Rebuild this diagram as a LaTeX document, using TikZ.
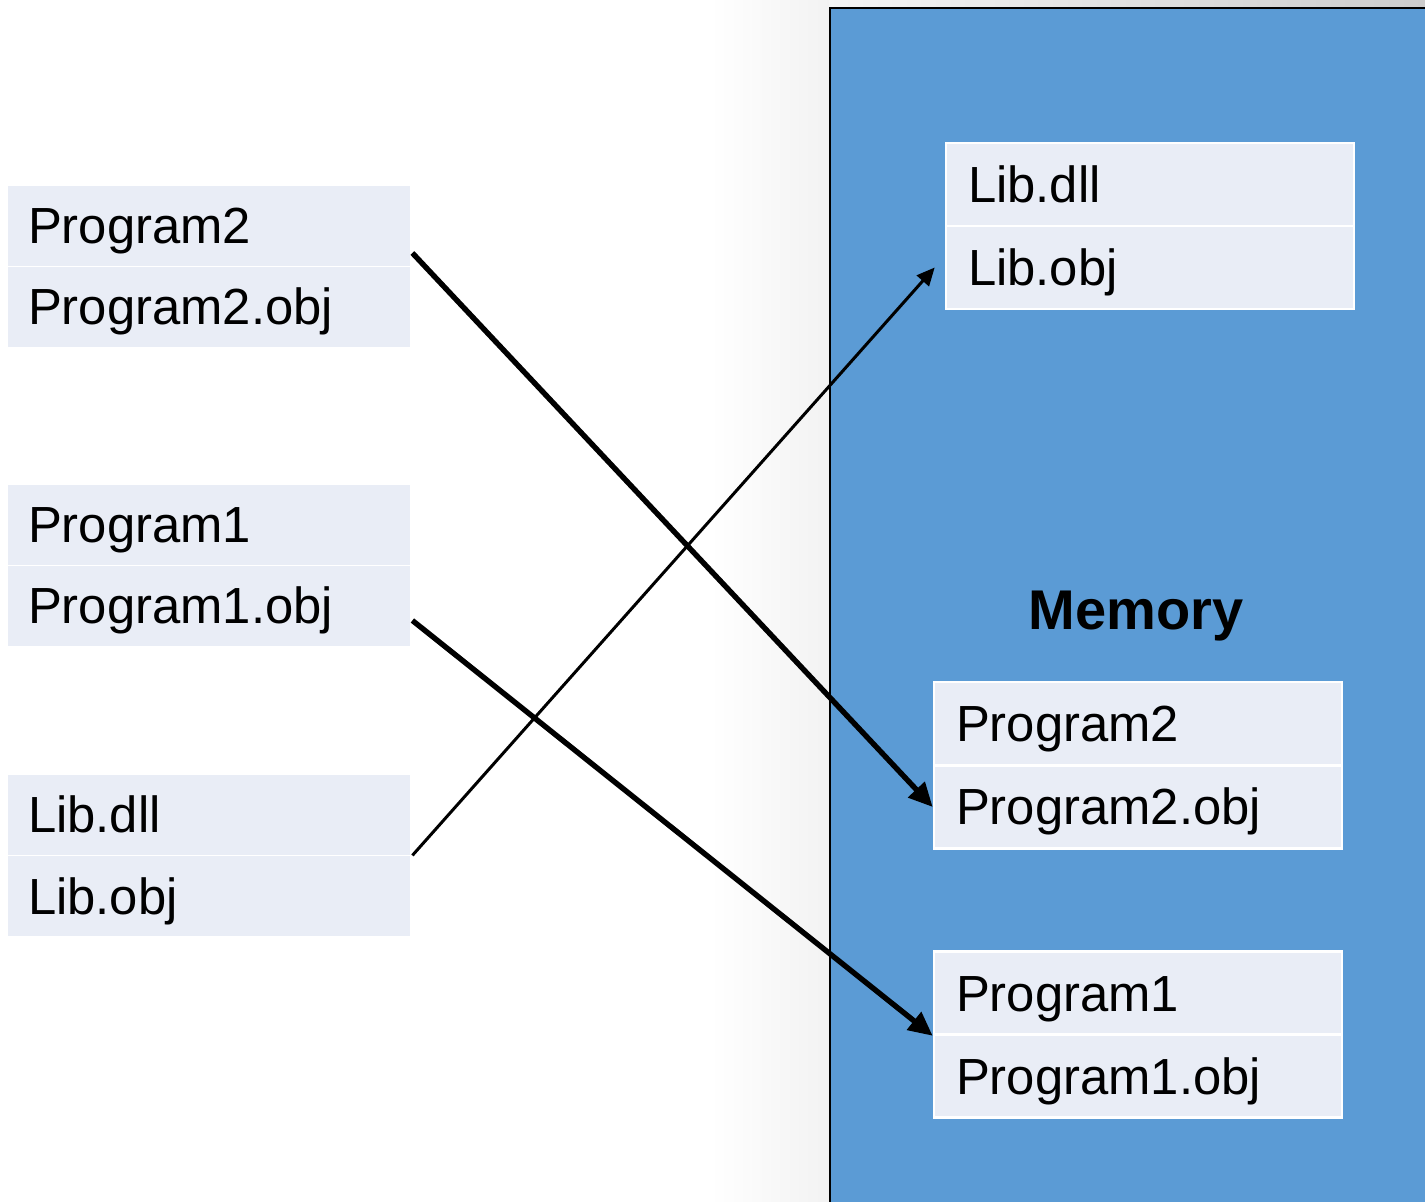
\documentclass[tikz,border=0pt]{standalone}
\usepackage{fontspec}
\setmainfont{Liberation Sans}
\usetikzlibrary{arrows.meta,calc}
\definecolor{memblue}{HTML}{5B9BD5}
\definecolor{rowfill}{HTML}{E9EDF6}
\begin{document}
\begin{tikzpicture}[x=0.5pt,y=-0.5pt,
 lrow/.style={fill=rowfill, minimum width=201pt, minimum height=40pt, text width=181pt, inner xsep=10pt, inner ysep=0pt, align=left, text height=21pt, text depth=3pt, font=\fontsize{25.4}{30}\selectfont},
 rrow/.style={lrow, draw=white, line width=1.3pt, minimum width=204pt, minimum height=41.5pt, text width=182pt, inner xsep=11pt},
 membox/.style={fill=memblue, draw=black, line width=1pt, inner sep=0pt, anchor=north west, minimum width=305pt, minimum height=610pt},
 link/.style={line width=2.7pt, -{Triangle[length=12pt,width=11pt]}},
 thinlink/.style={line width=1.5pt, -{Triangle[length=9pt,width=8pt]}}]
\useasboundingbox (0,0) rectangle (1425,1202);
\clip (0,0) rectangle (1425,1202);
\fill[white] (0,0) rectangle (1425,1202);

% soft shadow around the memory area
\shade[left color=white, right color=black!5] (710,0) rectangle (829,1202);
\shade[left color=black!4, right color=black!20] (829,0) rectangle (1425,8);

% memory area
\node[membox] (mem) at (829,7) {};
\node[font=\fontsize{28}{34}\selectfont\bfseries] (memlbl) at (1136,616) {Memory};

% left rows
\node[lrow] (l2a) at (209,226) {Program2};
\node[lrow] (l2b) at (209,307) {Program2.obj};
\node[lrow] (l1a) at (209,525) {Program1};
\node[lrow] (l1b) at (209,606) {Program1.obj};
\node[lrow] (lLa) at (209,815) {Lib.dll};
\node[lrow] (lLb) at (209,896) {Lib.obj};

% right rows
\node[rrow] (rLa) at (1150,184.5) {Lib.dll};
\node[rrow] (rLb) at (1150,267.5) {Lib.obj};
\node[rrow] (r2a) at (1138,723.5) {Program2};
\node[rrow] (r2b) at (1138,807) {Program2.obj};
\node[rrow] (r1a) at (1138,993) {Program1};
\node[rrow] (r1b) at (1138,1076) {Program1.obj};

% connectors
\draw[link] ([shift={(1pt,-13.5pt)}]l2a.east) -- (r2b.west);
\draw[link] ([shift={(1pt,-7.25pt)}]l1b.east) -- (r1a.south west);
\draw[thinlink] ([xshift=1pt]lLa.south east) -- ([xshift=-5pt]rLb.west);
\end{tikzpicture}
\end{document}
